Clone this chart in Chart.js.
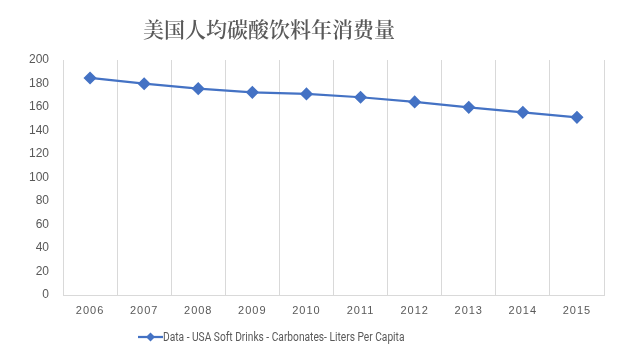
<!DOCTYPE html>
<html>
<head>
<meta charset="utf-8">
<script src="https://cdn.jsdelivr.net/npm/chart.js@4"></script>
<style>
  html, body { margin: 0; padding: 0; background: #fff; }
  #wrap { position: relative; width: 621px; height: 355px; overflow: hidden; }
  #c { position: absolute; left: 0; top: 0; }
  #title { position: absolute; left: 143px; top: 12px; font-family: "Noto Serif CJK SC", "Noto Sans CJK SC", sans-serif; font-weight: 600; font-size: 21px; letter-spacing: 0px; color: #595959; white-space: nowrap; line-height: 32px; }
  #legend { position: absolute; left: 138px; top: 329px; height: 16px; display: flex; align-items: center; font-family: "Roboto", sans-serif; font-size: 12px; color: #595959; white-space: nowrap; }
  #legendText { display: inline-block; transform: scaleX(0.85); transform-origin: left center; }
</style>
</head>
<body>
<div id="wrap">
  <canvas id="c" width="621" height="355"></canvas>
  <div id="title">美国人均碳酸饮料年消费量</div>
  <div id="legend"><svg width="25" height="10"><line x1="0" y1="5" x2="25" y2="5" stroke="#4472C4" stroke-width="2.25"/><polygon points="12.5,0.5 17,5 12.5,9.5 8,5" fill="#4472C4"/></svg><span id="legendText"></span></div>
</div>
<script>
const years = ["2006","2007","2008","2009","2010","2011","2012","2013","2014","2015"];
const litersPerCapita = [184.7, 179.8, 175.6, 172.5, 171.1, 168.3, 164.3, 159.7, 155.5, 151.2];
const yTicks = [0, 20, 40, 60, 80, 100, 120, 140, 160, 180, 200];
const seriesName = "Data - USA Soft Drinks - Carbonates- Liters Per Capita";

document.getElementById('legendText').textContent = seriesName;

const spacedXLabels = {
  id: 'spacedXLabels',
  afterLayout(chart) {
    const sx = chart.scales.x;
    if (sx && !sx._spacedWrapped) {
      const orig = sx.drawLabels;
      sx.drawLabels = function (area) {
        const ctx = this.ctx;
        ctx.save();
        ctx.letterSpacing = '1px';
        orig.call(this, area);
        ctx.restore();
      };
      sx._spacedWrapped = true;
    }
  }
};

new Chart(document.getElementById('c'), {
  type: 'line',
  data: {
    labels: years,
    datasets: [{
      label: seriesName,
      data: litersPerCapita,
      borderColor: '#4472C4',
      backgroundColor: '#4472C4',
      borderWidth: 2.25,
      pointStyle: 'rectRot',
      pointRadius: 5,
      pointHoverRadius: 5,
      tension: 0,
      fill: false
    }]
  },
  plugins: [spacedXLabels],
  options: {
    responsive: false,
    animation: false,
    devicePixelRatio: 1,
    layout: { padding: { top: 60, right: 17, bottom: 30, left: 0 } },
    plugins: {
      legend: { display: false },
      title: { display: false },
      tooltip: { enabled: false }
    },
    scales: {
      x: {
        offset: true,
        grid: { display: true, offset: true, color: '#d9d9d9', lineWidth: 1, drawTicks: false },
        border: { display: true, color: '#d9d9d9' },
        ticks: { color: '#595959', font: { family: 'Liberation Sans', size: 11 }, padding: 9, maxRotation: 0 },
        afterFit: (s) => { s.height = 30; }
      },
      y: {
        min: 0,
        max: 200,
        afterBuildTicks: (s) => { s.ticks = yTicks.map(v => ({ value: v })); },
        grid: { display: false, drawTicks: false },
        border: { display: false },
        ticks: { color: '#595959', font: { family: 'Liberation Sans', size: 12 }, padding: 14 },
        afterFit: (s) => { s.width = 63; }
      }
    }
  }
});
</script>
</body>
</html>
